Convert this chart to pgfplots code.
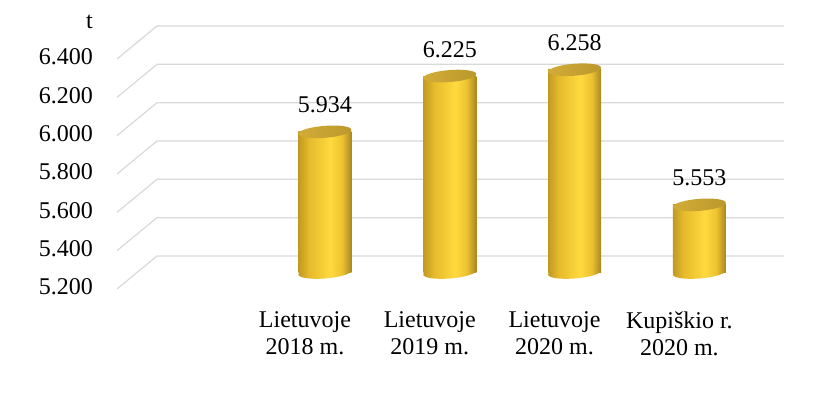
\documentclass[border=0pt]{standalone}
\usepackage{pgfplots}
\pgfplotsset{compat=1.18}
\usepackage{fontspec}
\setmainfont{Liberation Serif}
\definecolor{g0}{HTML}{C09A22}
\definecolor{g1}{HTML}{E6BA2C}
\definecolor{gM}{HTML}{FFDA3E}
\definecolor{g3}{HTML}{EDC232}
\definecolor{g4}{HTML}{A8881E}
\definecolor{cL}{HTML}{D2AC38}
\definecolor{cR}{HTML}{BB982C}
\definecolor{gridc}{HTML}{D9D9D9}
\pgfdeclarehorizontalshading{barshade}{100bp}{color(0bp)=(g0); color(25bp)=(g0); color(35bp)=(g1); color(55bp)=(gM); color(66bp)=(g3); color(75bp)=(g4); color(100bp)=(g4)}
\pgfdeclarehorizontalshading{capshade}{100bp}{color(0bp)=(cL); color(25bp)=(cL); color(75bp)=(cR); color(100bp)=(cR)}
\pgfdeclareplotmark{cylbot}{%
  \pgfpathellipse{\pgfpointorigin}{\pgfpoint{26.5pt}{2pt}}{\pgfpoint{0pt}{6pt}}%
  \pgfshadepath{barshade}{0}\pgfusepath{discard}}
\pgfdeclareplotmark{cyltop}{%
  \pgfpathellipse{\pgfpointorigin}{\pgfpoint{26.5pt}{2pt}}{\pgfpoint{0pt}{6pt}}%
  \pgfshadepath{capshade}{0}\pgfusepath{discard}}
\newcommand{\bigf}{\fontsize{24}{27}\selectfont}
\pgfplotsset{cylbody/.style={ybar, bar width=53pt, bar shift=0pt, draw=none,
  shading=barshade}}
\begin{document}
\begin{tikzpicture}
\path[use as bounding box] (0,0) rectangle (820pt,393pt);
\begin{axis}[
  scale only axis, width=627pt, height=230pt,
  at={(137pt,120.5pt)}, anchor=south west,
  xmin=-1.506, xmax=3.518, ymin=5.2, ymax=6.4,
  y coord trafo/.code={\pgfmathparse{#1-5.2}},
  y coord inv trafo/.code={\pgfmathparse{#1+5.2}},
  clip=false,
  axis line style={draw=none},
  major tick length=0pt,
  /pgf/number format/assume math mode=true,
  ytick={5.2,5.4,5.6,5.8,6.0,6.2,6.4},
  yticklabel style={/pgf/number format/.cd, fixed, fixed zerofill, precision=3, /tikz/.cd,
     anchor=east, inner sep=0pt, xshift=-44pt, yshift=-14.5pt, font=\bigf},
  xtick={0,1,2,3},
  xticklabels={{Lietuvoje\\2018 m.},{Lietuvoje\\2019 m.},{Lietuvoje\\2020 m.},{Kupiškio r.\\2020 m.}},
  xticklabel style={anchor=north, align=center, inner sep=0pt, xshift=-20pt, yshift=-39pt, font=\bigf},
]
\pgfplotsinvokeforeach{5.2,5.4,5.6,5.8,6.0,6.2,6.4}{
  \draw[gridc, line width=1.2pt] ([shift={(-20pt,-16.5pt)}]axis cs:-1.506,#1) -- ([shift={(20pt,16.5pt)}]axis cs:-1.506,#1) -- ([shift={(20pt,16.5pt)}]axis cs:3.518,#1);
}
% bottoms of the cylinders
\addplot[only marks, mark=cylbot] coordinates {(0,5.2) (1,5.2) (2,5.2) (3,5.2)};
% bodies, one plot each so each bar gets its own shading
\addplot[cylbody] coordinates {(0,5.934)};
\addplot[cylbody] coordinates {(1,6.225)};
\addplot[cylbody] coordinates {(2,6.258)};
\addplot[cylbody] coordinates {(3,5.553)};
% tops and value labels
\addplot[only marks, mark=cyltop,
  point meta=rawy,
  nodes near coords={\pgfmathprintnumber[fixed, fixed zerofill, precision=3]{\pgfplotspointmeta}},
  every node near coord/.append style={anchor=base, yshift=19pt, inner sep=0pt, font=\bigf, text=black},
] coordinates {(0,5.934) (1,6.225) (2,6.258) (3,5.553)};
\end{axis}
\node[anchor=east, inner sep=0pt, font=\bigf] at (93pt,371pt) {t};
\end{tikzpicture}
\end{document}
